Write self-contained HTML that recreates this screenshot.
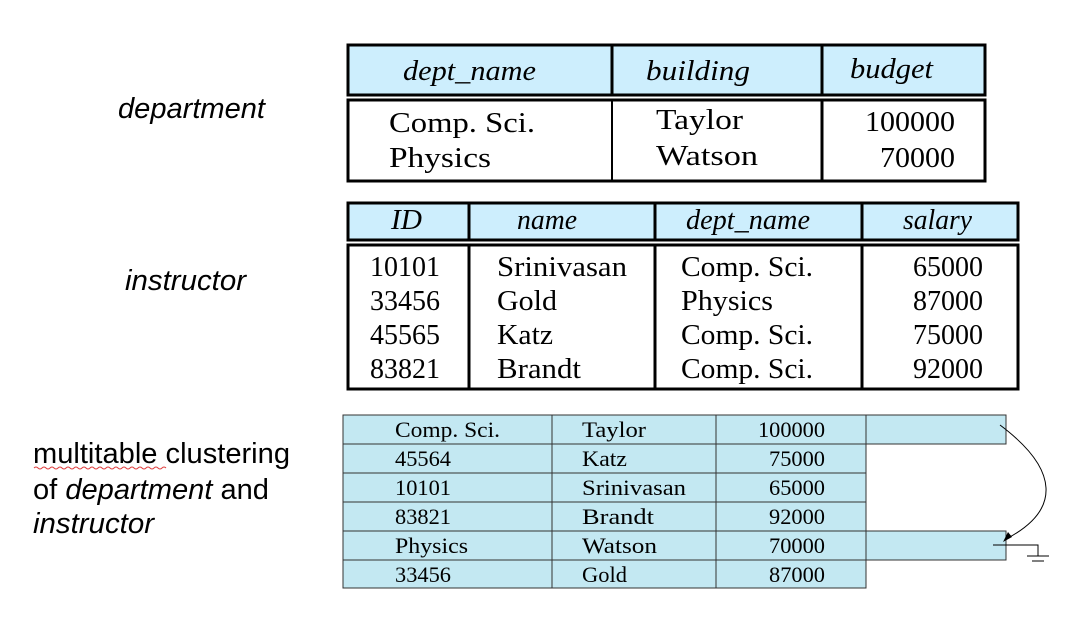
<!DOCTYPE html>
<html><head><meta charset="utf-8"><style>
html,body{margin:0;padding:0;background:#fff;}
svg{display:block;}
.l{font-family:"Liberation Sans",sans-serif;font-size:29px;}
.s{font-family:"Liberation Serif",serif;font-size:29px;}
.h{font-family:"Liberation Serif",serif;font-size:29px;font-style:italic;}
.c{font-family:"Liberation Serif",serif;font-size:22px;}
</style></head><body>
<svg width="1067" height="619" viewBox="0 0 1067 619" xmlns="http://www.w3.org/2000/svg">
<text class="l" x="118" y="118" font-style="italic" textLength="147" lengthAdjust="spacingAndGlyphs">department</text>
<text class="l" x="125" y="290" font-style="italic" textLength="121" lengthAdjust="spacingAndGlyphs">instructor</text>
<text class="l" x="33" y="463" textLength="257" lengthAdjust="spacingAndGlyphs">multitable clustering</text>
<path d="M34 468 q2 -2 4 0 t4 0 t4 0 t4 0 t4 0 t4 0 t4 0 t4 0 t4 0 t4 0 t4 0 t4 0 t4 0 t4 0 t4 0 t4 0 t4 0 t4 0 t4 0 t4 0 t4 0 t4 0 t4 0 t4 0 t4 0 t4 0 t4 0 t4 0 t4 0 t4 0 t4 0 t4 0 t4 0" fill="none" stroke="#e04040" stroke-width="1"/>
<text class="l" x="33" y="499" textLength="236" lengthAdjust="spacingAndGlyphs">of <tspan font-style="italic">department</tspan> and</text>
<text class="l" x="33" y="533" font-style="italic" textLength="121" lengthAdjust="spacingAndGlyphs">instructor</text>

<!-- department -->
<rect x="348" y="45" width="637" height="50" fill="#cdeefd" stroke="#000" stroke-width="3"/>
<line x1="612" y1="45" x2="612" y2="95" stroke="#000" stroke-width="3"/>
<line x1="822" y1="45" x2="822" y2="95" stroke="#000" stroke-width="3"/>
<rect x="348" y="100" width="637" height="81" fill="#fff" stroke="#000" stroke-width="3"/>
<line x1="612" y1="100" x2="612" y2="181" stroke="#000" stroke-width="2"/>
<line x1="822" y1="100" x2="822" y2="181" stroke="#000" stroke-width="3"/>
<g lengthAdjust="spacingAndGlyphs">
<text class="h" x="403" y="80" textLength="133" lengthAdjust="spacingAndGlyphs">dept_name</text>
<text class="h" x="646" y="80" textLength="104" lengthAdjust="spacingAndGlyphs">building</text>
<text class="h" x="850" y="78" textLength="83" lengthAdjust="spacingAndGlyphs">budget</text>
<text class="s" x="389" y="132" textLength="146" lengthAdjust="spacingAndGlyphs">Comp. Sci.</text>
<text class="s" x="389" y="167" textLength="102" lengthAdjust="spacingAndGlyphs">Physics</text>
<text class="s" x="656" y="129" textLength="87" lengthAdjust="spacingAndGlyphs">Taylor</text>
<text class="s" x="656" y="165" textLength="102" lengthAdjust="spacingAndGlyphs">Watson</text>
<text class="s" x="865" y="131" textLength="90" lengthAdjust="spacingAndGlyphs">100000</text>
<text class="s" x="880" y="167" textLength="75" lengthAdjust="spacingAndGlyphs">70000</text>
</g>

<!-- instructor -->
<rect x="348" y="203" width="670" height="37" fill="#cdeefd" stroke="#000" stroke-width="3"/>
<line x1="469" y1="203" x2="469" y2="240" stroke="#000" stroke-width="3"/>
<line x1="655" y1="203" x2="655" y2="240" stroke="#000" stroke-width="3"/>
<line x1="862" y1="203" x2="862" y2="240" stroke="#000" stroke-width="3"/>
<rect x="348" y="245" width="670" height="144" fill="#fff" stroke="#000" stroke-width="3"/>
<line x1="469" y1="245" x2="469" y2="389" stroke="#000" stroke-width="3"/>
<line x1="655" y1="245" x2="655" y2="389" stroke="#000" stroke-width="3"/>
<line x1="862" y1="245" x2="862" y2="389" stroke="#000" stroke-width="3"/>
<text class="h" x="391" y="229" textLength="31" lengthAdjust="spacingAndGlyphs">ID</text>
<text class="h" x="517" y="229" textLength="60" lengthAdjust="spacingAndGlyphs">name</text>
<text class="h" x="686" y="229" textLength="124" lengthAdjust="spacingAndGlyphs">dept_name</text>
<text class="h" x="903" y="229" textLength="69" lengthAdjust="spacingAndGlyphs">salary</text>
<g class="s">
<text x="370" y="276" textLength="70" lengthAdjust="spacingAndGlyphs">10101</text><text x="370" y="310" textLength="70" lengthAdjust="spacingAndGlyphs">33456</text><text x="370" y="344" textLength="70" lengthAdjust="spacingAndGlyphs">45565</text><text x="370" y="378" textLength="70" lengthAdjust="spacingAndGlyphs">83821</text>
<text x="497" y="276" textLength="130" lengthAdjust="spacingAndGlyphs">Srinivasan</text><text x="497" y="310" textLength="60" lengthAdjust="spacingAndGlyphs">Gold</text><text x="497" y="344" textLength="56" lengthAdjust="spacingAndGlyphs">Katz</text><text x="497" y="378" textLength="84" lengthAdjust="spacingAndGlyphs">Brandt</text>
<text x="681" y="276" textLength="132" lengthAdjust="spacingAndGlyphs">Comp. Sci.</text><text x="681" y="310" textLength="92" lengthAdjust="spacingAndGlyphs">Physics</text><text x="681" y="344" textLength="132" lengthAdjust="spacingAndGlyphs">Comp. Sci.</text><text x="681" y="378" textLength="132" lengthAdjust="spacingAndGlyphs">Comp. Sci.</text>
<text x="913" y="276" textLength="70" lengthAdjust="spacingAndGlyphs">65000</text><text x="913" y="310" textLength="70" lengthAdjust="spacingAndGlyphs">87000</text><text x="913" y="344" textLength="70" lengthAdjust="spacingAndGlyphs">75000</text><text x="913" y="378" textLength="70" lengthAdjust="spacingAndGlyphs">92000</text>
</g>

<!-- cluster -->
<g fill="#c3e8f2" stroke="#333" stroke-width="1">
<rect x="343" y="415" width="523" height="29"/>
<rect x="343" y="444" width="523" height="29"/>
<rect x="343" y="473" width="523" height="29"/>
<rect x="343" y="502" width="523" height="29"/>
<rect x="343" y="531" width="523" height="29"/>
<rect x="343" y="560" width="523" height="28"/>
<rect x="866" y="415" width="140" height="29"/>
<rect x="866" y="531" width="140" height="29"/>
</g>
<line x1="552" y1="415" x2="552" y2="588" stroke="#333"/>
<line x1="716" y1="415" x2="716" y2="588" stroke="#333"/>
<g class="c">
<text x="395" y="437" textLength="105" lengthAdjust="spacingAndGlyphs">Comp. Sci.</text><text x="395" y="466" textLength="56" lengthAdjust="spacingAndGlyphs">45564</text><text x="395" y="495" textLength="56" lengthAdjust="spacingAndGlyphs">10101</text><text x="395" y="524" textLength="56" lengthAdjust="spacingAndGlyphs">83821</text><text x="395" y="553" textLength="73" lengthAdjust="spacingAndGlyphs">Physics</text><text x="395" y="582" textLength="56" lengthAdjust="spacingAndGlyphs">33456</text>
<text x="582" y="437" textLength="64" lengthAdjust="spacingAndGlyphs">Taylor</text><text x="582" y="466" textLength="45" lengthAdjust="spacingAndGlyphs">Katz</text><text x="582" y="495" textLength="104" lengthAdjust="spacingAndGlyphs">Srinivasan</text><text x="582" y="524" textLength="72" lengthAdjust="spacingAndGlyphs">Brandt</text><text x="582" y="553" textLength="75" lengthAdjust="spacingAndGlyphs">Watson</text><text x="582" y="582" textLength="45" lengthAdjust="spacingAndGlyphs">Gold</text>
<text x="758" y="437" textLength="67" lengthAdjust="spacingAndGlyphs">100000</text><text x="769" y="466" textLength="56" lengthAdjust="spacingAndGlyphs">75000</text><text x="769" y="495" textLength="56" lengthAdjust="spacingAndGlyphs">65000</text><text x="769" y="524" textLength="56" lengthAdjust="spacingAndGlyphs">92000</text><text x="769" y="553" textLength="56" lengthAdjust="spacingAndGlyphs">70000</text><text x="769" y="582" textLength="56" lengthAdjust="spacingAndGlyphs">87000</text>
</g>
<path d="M1000 425 C1060 470 1060 510 1008 538" fill="none" stroke="#000" stroke-width="1"/>
<path d="M1003 542 L1008 532 L1012 537 Z" fill="#000"/>
<polyline points="993,545 1038,545 1038,556" fill="none" stroke="#000"/>
<line x1="1027" y1="556" x2="1049" y2="556" stroke="#000"/>
<line x1="1032" y1="561" x2="1044" y2="561" stroke="#000"/>
</svg>
</body></html>
